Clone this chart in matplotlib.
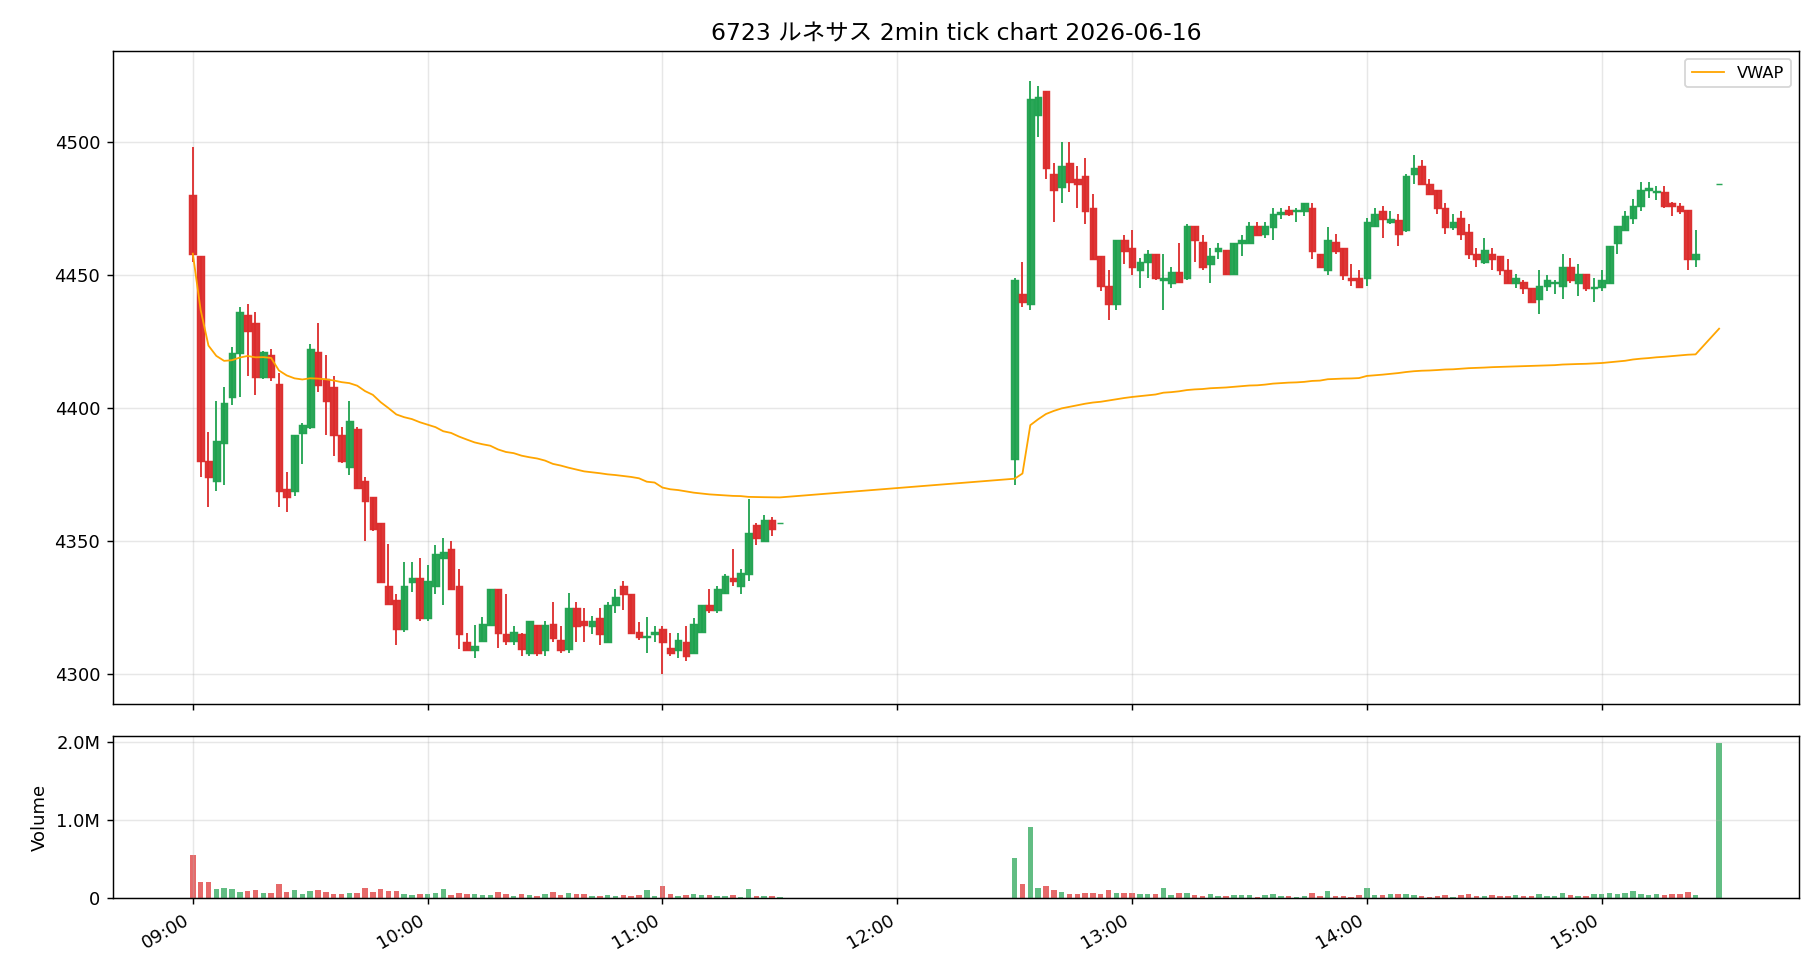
import matplotlib
matplotlib.use("Agg")
import matplotlib.pyplot as plt
import matplotlib.dates as mdates
from matplotlib.ticker import FuncFormatter, MultipleLocator
import numpy as np
import pandas as pd

plt.rcParams["font.family"] = ["DejaVu Sans", "Noto Sans CJK JP"]

TITLE = "6723 ルネサス 2min tick chart 2026-06-16"
DAY = "2026-06-16"

# 2-minute bars: morning session, afternoon session, then the 15:30 closing auction
am_times = pd.date_range(f"{DAY} 09:00", f"{DAY} 11:30", freq="2min")
pm_times = pd.date_range(f"{DAY} 12:30", f"{DAY} 15:24", freq="2min")
auction_time = pd.to_datetime([f"{DAY} 15:30"])

am_open = [4480, 4457, 4380, 4372.5, 4387, 4404, 4420.5, 4435, 4432, 4411.5,
           4420, 4409, 4369.5, 4369, 4390.5, 4393, 4421, 4411, 4408, 4390,
           4378, 4392, 4372.5, 4366.5, 4357, 4333, 4328, 4317, 4334.5, 4336,
           4321, 4333, 4343.5, 4347, 4333, 4312, 4309, 4312.5, 4318.5, 4332,
           4315, 4312.5, 4315, 4308, 4318.5, 4309, 4319, 4313, 4309.5, 4325,
           4320, 4318, 4321, 4312, 4326, 4333, 4330, 4316, 4314, 4315,
           4317, 4310, 4309, 4312, 4308, 4316, 4326, 4324, 4330.5, 4336,
           4333, 4337.5, 4356, 4350, 4358, 4357]
am_high = [4498, 4457, 4391, 4402.5, 4408, 4423, 4438, 4439, 4436, 4421.5,
           4422, 4413, 4376, 4390, 4394.5, 4424, 4432, 4420, 4412, 4393,
           4402.5, 4393, 4374, 4366.5, 4357, 4349, 4330, 4342, 4342, 4343.5,
           4341, 4348.5, 4351, 4350, 4339.5, 4315.5, 4318.5, 4321.5, 4332, 4332,
           4330, 4318, 4315.5, 4320, 4318.5, 4320, 4327, 4318, 4330.5, 4327,
           4325, 4322, 4325, 4327, 4332, 4335, 4330, 4319.5, 4321.5, 4318,
           4318, 4315.5, 4315.5, 4318, 4321, 4326, 4332, 4333, 4337.5, 4347,
           4339.5, 4366, 4357, 4360, 4359, 4357]
am_low = [4455, 4374, 4363, 4369, 4371, 4401, 4404, 4412, 4405, 4411,
          4410, 4363, 4361, 4367, 4379, 4392, 4406, 4390, 4382, 4379.5,
          4375, 4370, 4350, 4354, 4334.5, 4326.5, 4311, 4316, 4331, 4320,
          4320, 4330, 4326, 4332, 4309.5, 4309, 4306, 4312.5, 4318.5, 4310,
          4311, 4311, 4307, 4307, 4307, 4307, 4312, 4308, 4308, 4312,
          4312, 4315, 4311, 4312, 4323, 4324, 4315, 4313, 4308, 4312,
          4300, 4307, 4306, 4305, 4308, 4316, 4323, 4323, 4330, 4333,
          4330, 4335, 4348.5, 4350, 4352, 4357]
am_close = [4458, 4380, 4374, 4387.5, 4402, 4420.5, 4436, 4429, 4411.5, 4421,
            4411.5, 4369, 4366.5, 4390, 4393.5, 4422, 4408.5, 4402.5, 4390, 4380,
            4395, 4370, 4365, 4354.5, 4334.5, 4326.5, 4317, 4333, 4336, 4321,
            4335, 4345, 4346, 4332, 4315, 4309, 4310.5, 4319, 4332, 4315.5,
            4312.5, 4316, 4309.5, 4320, 4308, 4318.5, 4313.5, 4309, 4325, 4318,
            4318.5, 4320, 4315, 4326, 4329, 4330, 4315.5, 4314, 4314.5, 4316,
            4312, 4308, 4313, 4307, 4319, 4326, 4324, 4332, 4337, 4335,
            4338, 4353, 4351, 4358, 4354.5, 4357]
am_volume = [549000, 204000, 204000, 115000, 128000, 115000, 77000, 89000, 102000, 64000,
             64000, 179000, 77000, 102000, 51000, 89000, 102000, 77000, 51000, 51000,
             64000, 64000, 128000, 77000, 115000, 89000, 89000, 51000, 38000, 51000,
             51000, 64000, 115000, 38000, 64000, 51000, 51000, 38000, 38000, 77000,
             51000, 26000, 51000, 38000, 26000, 51000, 77000, 38000, 64000, 51000,
             51000, 26000, 26000, 38000, 26000, 38000, 26000, 38000, 102000, 26000,
             153000, 51000, 26000, 38000, 51000, 38000, 38000, 26000, 26000, 38000,
             13000, 115000, 26000, 26000, 26000, 13000]

pm_open = [4381, 4443, 4439, 4510, 4519, 4488, 4483, 4492, 4486, 4487,
           4475, 4457, 4446, 4439, 4463, 4460, 4452, 4455, 4458, 4448,
           4447, 4451, 4449, 4468.5, 4462.5, 4454, 4459, 4459.5, 4450.5, 4462,
           4462, 4468.5, 4465.5, 4468, 4473, 4474.5, 4474, 4474, 4475, 4458,
           4452, 4462.5, 4460, 4449, 4449, 4449, 4468.5, 4474, 4470, 4470.5,
           4467, 4488, 4491, 4484, 4482, 4475, 4468, 4471.5, 4466, 4458,
           4455, 4458, 4457, 4452, 4447, 4447.5, 4445, 4441, 4446, 4447,
           4446, 4453, 4447, 4450.5, 4445, 4445.5, 4447, 4462, 4467, 4471.5,
           4476, 4482, 4481, 4481, 4477, 4476, 4474.5, 4456,
           4484]
pm_high = [4449, 4455, 4523, 4521, 4519, 4492, 4500, 4500, 4491, 4494,
           4480.5, 4457, 4452, 4463, 4465, 4467, 4456.5, 4459.5, 4458, 4458,
           4453, 4462, 4469, 4468.5, 4465, 4460, 4462, 4459.5, 4462, 4465,
           4470, 4470, 4470, 4475, 4475, 4476, 4475, 4477, 4477, 4458,
           4468, 4465.5, 4460, 4454, 4452, 4471.5, 4475, 4476, 4474, 4473,
           4488, 4495, 4493, 4486, 4482, 4477, 4473, 4474, 4469, 4460,
           4464, 4460, 4457, 4456, 4450.5, 4448, 4445, 4452, 4450, 4448,
           4458, 4456.5, 4454, 4450.5, 4449, 4452, 4461, 4468.5, 4474, 4478.5,
           4485, 4485, 4483.5, 4483.5, 4477.5, 4477, 4474.5, 4467,
           4484]
pm_low = [4371, 4438, 4437, 4502, 4486, 4470, 4477, 4481, 4475, 4469,
          4456, 4444, 4433, 4437, 4454, 4450, 4445, 4449, 4448, 4437,
          4445, 4447, 4448, 4455, 4452, 4447, 4456, 4450, 4450.5, 4457,
          4462, 4465, 4464, 4463, 4471, 4472, 4470, 4472, 4456, 4453,
          4450, 4458, 4448, 4446, 4445, 4446, 4468, 4464, 4469, 4461,
          4466, 4484, 4484, 4480, 4473, 4465.5, 4467, 4463, 4456, 4453,
          4454, 4452, 4450, 4447, 4445, 4443, 4440, 4435.5, 4444, 4443,
          4441, 4447, 4442, 4444, 4440, 4444, 4447, 4458, 4467, 4469,
          4474, 4479, 4478, 4475, 4472, 4473, 4452, 4453,
          4484]
pm_close = [4448, 4440, 4516, 4517, 4490, 4482, 4491, 4485, 4484, 4474,
            4456, 4446, 4439, 4463, 4459, 4453, 4455, 4458, 4449, 4449,
            4451, 4447.5, 4468.5, 4463, 4453, 4457, 4460, 4450.5, 4462, 4463,
            4468.5, 4465, 4468.5, 4473, 4473.5, 4473, 4474.5, 4477, 4459, 4453,
            4463, 4459, 4450, 4448, 4445.5, 4470, 4473, 4471, 4471, 4465.5,
            4487, 4490, 4484, 4480.5, 4475, 4468, 4470, 4465.5, 4458, 4456,
            4459.5, 4456, 4452, 4447, 4449, 4445, 4440, 4446, 4448, 4447.5,
            4453, 4448, 4450.5, 4445, 4445.5, 4448, 4461, 4468.5, 4472, 4476,
            4482, 4482.5, 4481.5, 4476, 4476, 4474, 4456, 4458,
            4484]
pm_volume = [511000, 179000, 906000, 128000, 153000, 102000, 77000, 51000, 51000, 64000,
             64000, 51000, 102000, 64000, 64000, 64000, 51000, 51000, 51000, 128000,
             38000, 64000, 64000, 38000, 26000, 51000, 26000, 26000, 38000, 38000,
             38000, 13000, 38000, 51000, 26000, 26000, 13000, 26000, 64000, 26000,
             89000, 26000, 26000, 13000, 38000, 128000, 38000, 38000, 51000, 51000,
             51000, 38000, 26000, 13000, 26000, 38000, 13000, 38000, 51000, 26000,
             26000, 38000, 26000, 26000, 38000, 26000, 26000, 51000, 26000, 26000,
             64000, 38000, 26000, 26000, 51000, 51000, 64000, 51000, 64000, 89000,
             51000, 38000, 51000, 38000, 51000, 51000, 77000, 38000,
             1979000]

UP = "#1fa24f"
DOWN = "#dc2b2b"


def main() -> None:
    times = am_times.append(pm_times).append(auction_time)
    x = mdates.date2num(times.to_pydatetime())
    o = np.array(am_open + pm_open, dtype=float)
    h = np.array(am_high + pm_high, dtype=float)
    lo = np.array(am_low + pm_low, dtype=float)
    c = np.array(am_close + pm_close, dtype=float)
    v = np.array(am_volume + pm_volume, dtype=float)

    up = c >= o
    colors = np.where(up, UP, DOWN)
    vwap = np.cumsum(c * v) / np.cumsum(v)
    bar_min = 2.0 / 1440.0

    fig, (ax, axv) = plt.subplots(
        2, 1, figsize=(14, 980 / 130), sharex=True,
        gridspec_kw=dict(height_ratios=[4.02, 1]),
    )

    ax.vlines(x, lo, h, colors=colors, lw=1.0, zorder=2)
    ax.bar(x, np.abs(c - o), bottom=np.minimum(o, c), width=bar_min * 0.85,
           color=colors, edgecolor=colors, linewidth=0.8, alpha=0.95, zorder=3)
    ax.plot(x, vwap, color="orange", lw=1.0, label="VWAP", zorder=4)

    ax.set_title(TITLE, fontsize=13)
    ax.grid(True, alpha=0.3)
    ax.legend(loc="upper right", fontsize=9)

    axv.bar(x, v, width=bar_min * 0.7, color=colors, alpha=0.7)
    axv.set_ylabel("Volume")
    axv.yaxis.set_major_locator(MultipleLocator(1_000_000))
    axv.yaxis.set_major_formatter(FuncFormatter(
        lambda y, _: "0" if y == 0 else f"{y / 1e6:.1f}M"))
    axv.grid(True, alpha=0.3)

    axv.xaxis.set_major_locator(mdates.HourLocator())
    axv.xaxis.set_major_formatter(mdates.DateFormatter("%H:%M"))
    fig.autofmt_xdate(rotation=30, ha="right")
    fig.subplots_adjust(left=0.062, right=0.9885, top=0.948, bottom=0.0835,
                        hspace=0.078)

    fig.savefig("out.png", dpi=130)
    plt.close(fig)


if __name__ == "__main__":
    main()
